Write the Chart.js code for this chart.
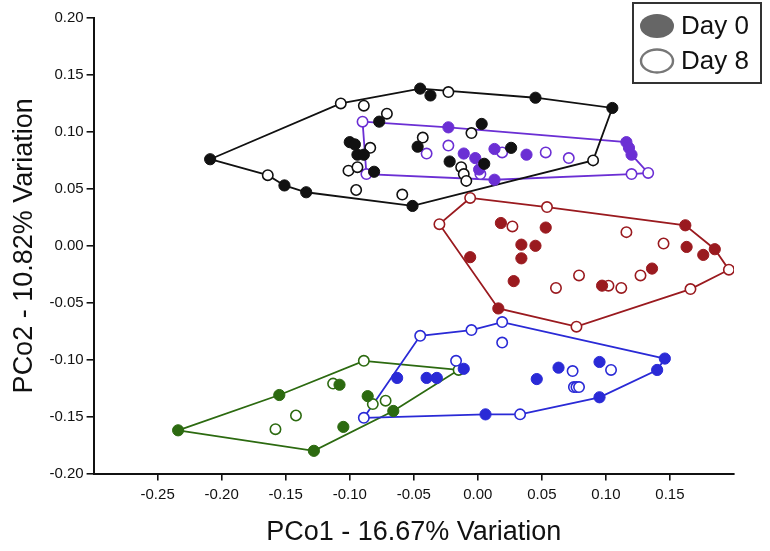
<!DOCTYPE html>
<html>
<head>
<meta charset="utf-8">
<script src="https://cdn.jsdelivr.net/npm/chart.js@4.4.1/dist/chart.umd.min.js"></script>
<style>
  html, body { margin: 0; padding: 0; background: #fff; }
  #wrap { width: 770px; height: 551px; position: relative; }
</style>
</head>
<body>
<div id="wrap"><canvas id="pcoChart"></canvas></div>
<script>
// PCo1 / PCo2 scores, [x, y] pairs per group and sampling day
var blackDay0 = [[-0.209, 0.076], [-0.151, 0.053], [-0.134, 0.047], [-0.051, 0.035], [-0.045, 0.138],
  [-0.037, 0.132], [0.045, 0.130], [0.105, 0.121], [-0.077, 0.109], [-0.100, 0.091], [-0.096, 0.089],
  [-0.094, 0.080], [-0.089, 0.080], [-0.081, 0.065], [-0.047, 0.087], [0.003, 0.107], [-0.022, 0.074],
  [0.005, 0.072], [0.026, 0.086]];
var blackDay8 = [[-0.164, 0.062], [-0.107, 0.125], [-0.089, 0.123], [-0.023, 0.135], [-0.071, 0.116],
  [-0.084, 0.086], [-0.101, 0.066], [-0.094, 0.069], [-0.095, 0.049], [-0.059, 0.045], [-0.043, 0.095],
  [-0.005, 0.099], [-0.013, 0.069], [-0.011, 0.063], [-0.009, 0.057], [0.090, 0.075]];
var blackHull = [[-0.209, 0.076], [-0.107, 0.125], [-0.045, 0.138], [0.045, 0.130], [0.105, 0.121],
  [0.090, 0.075], [-0.051, 0.035], [-0.134, 0.047], [-0.151, 0.053], [-0.164, 0.062]];

var purpleDay0 = [[-0.023, 0.104], [-0.011, 0.081], [-0.002, 0.077], [0.001, 0.067], [0.013, 0.085],
  [0.038, 0.080], [0.013, 0.058], [0.116, 0.091], [0.118, 0.086], [0.120, 0.080]];
var purpleDay8 = [[-0.090, 0.109], [-0.087, 0.063], [-0.040, 0.081], [-0.023, 0.088], [0.002, 0.063],
  [0.019, 0.082], [0.053, 0.082], [0.071, 0.077], [0.120, 0.063], [0.133, 0.064]];
var purpleHull = [[-0.090, 0.109], [-0.023, 0.104], [0.116, 0.091], [0.118, 0.086], [0.120, 0.080],
  [0.133, 0.064], [0.120, 0.063], [0.013, 0.058], [-0.087, 0.063]];

var redDay0 = [[0.162, 0.018], [0.185, -0.003], [0.016, -0.055], [-0.006, -0.010], [0.018, 0.020],
  [0.053, 0.016], [0.034, 0.001], [0.045, 0.000], [0.034, -0.011], [0.028, -0.031], [0.097, -0.035],
  [0.136, -0.020], [0.163, -0.001], [0.176, -0.008]];
var redDay8 = [[-0.006, 0.042], [0.054, 0.034], [0.196, -0.021], [0.166, -0.038], [0.077, -0.071],
  [-0.030, 0.019], [0.027, 0.017], [0.061, -0.037], [0.079, -0.026], [0.102, -0.035], [0.112, -0.037],
  [0.127, -0.026], [0.116, 0.012], [0.145, 0.002]];
var redHull = [[-0.006, 0.042], [0.054, 0.034], [0.162, 0.018], [0.185, -0.003], [0.196, -0.021],
  [0.166, -0.038], [0.077, -0.071], [0.016, -0.055], [-0.030, 0.019]];

var blueDay0 = [[0.146, -0.099], [0.140, -0.109], [0.095, -0.133], [0.006, -0.148], [-0.011, -0.108],
  [-0.063, -0.116], [-0.040, -0.116], [-0.032, -0.116], [0.046, -0.117], [0.063, -0.107], [0.095, -0.102]];
var blueDay8 = [[-0.045, -0.079], [-0.005, -0.074], [0.019, -0.067], [0.019, -0.085], [0.033, -0.148],
  [-0.089, -0.151], [-0.017, -0.101], [0.074, -0.110], [0.104, -0.109], [0.075, -0.124], [0.077, -0.124],
  [0.079, -0.124]];
var blueHull = [[-0.089, -0.151], [-0.045, -0.079], [-0.005, -0.074], [0.019, -0.067], [0.146, -0.099],
  [0.140, -0.109], [0.095, -0.133], [0.033, -0.148], [0.006, -0.148]];

var greenDay0 = [[-0.234, -0.162], [-0.155, -0.131], [-0.066, -0.145], [-0.128, -0.180], [-0.108, -0.122],
  [-0.086, -0.132], [-0.105, -0.159]];
var greenDay8 = [[-0.089, -0.101], [-0.015, -0.109], [-0.113, -0.121], [-0.082, -0.139], [-0.072, -0.136],
  [-0.142, -0.149], [-0.158, -0.161]];
var greenHull = [[-0.234, -0.162], [-0.155, -0.131], [-0.089, -0.101], [-0.015, -0.109], [-0.066, -0.145],
  [-0.128, -0.180]];

var xTitle = 'PCo1 - 16.67% Variation';
var yTitle = 'PCo2 - 10.82% Variation';
var legendLabels = ['Day 0', 'Day 8'];

var fontFamily = "'Liberation Sans', Arial, sans-serif";
var xMin = -0.30, xMax = 0.20, yMin = -0.20, yMax = 0.20;

function toPoints(arr) {
  return arr.map(function(p) { return { x: p[0], y: p[1] }; });
}

// one hull outline + filled (day 0) + open (day 8) markers per group
function groupDatasets(color, day0, day8, hull) {
  return [
    {
      data: toPoints(hull.concat([hull[0]])),
      showLine: true,
      borderColor: color,
      borderWidth: 1.8,
      pointRadius: 0,
      fill: false,
      tension: 0,
      order: 3
    },
    {
      data: toPoints(day8),
      pointRadius: 5.2,
      pointBackgroundColor: '#ffffff',
      pointBorderColor: color,
      pointBorderWidth: 1.6,
      order: 2
    },
    {
      data: toPoints(day0),
      pointRadius: 5.6,
      pointBackgroundColor: color,
      pointBorderColor: color,
      pointBorderWidth: 1,
      order: 1
    }
  ];
}

var datasets = []
  .concat(groupDatasets('#111111', blackDay0, blackDay8, blackHull))
  .concat(groupDatasets('#6b2fd4', purpleDay0, purpleDay8, purpleHull))
  .concat(groupDatasets('#9a1a1f', redDay0, redDay8, redHull))
  .concat(groupDatasets('#2a2ad6', blueDay0, blueDay8, blueHull))
  .concat(groupDatasets('#2c6a10', greenDay0, greenDay8, greenHull));

function isEnd(v, a, b) {
  return Math.abs(v - a) < 1e-6 || Math.abs(v - b) < 1e-6;
}

// boxed legend with ellipse markers, top right
var dayLegend = {
  id: 'dayLegend',
  afterDraw: function(chart) {
    var ctx = chart.ctx;
    ctx.save();
    ctx.lineWidth = 2;
    ctx.strokeStyle = '#333';
    ctx.strokeRect(633, 3, 128, 80);

    ctx.fillStyle = '#666';
    ctx.beginPath();
    ctx.ellipse(657, 26, 17, 12, 0, 0, Math.PI * 2);
    ctx.fill();

    ctx.strokeStyle = '#777';
    ctx.lineWidth = 2.4;
    ctx.beginPath();
    ctx.ellipse(657, 61, 16, 11.5, 0, 0, Math.PI * 2);
    ctx.stroke();

    ctx.fillStyle = '#111';
    ctx.font = "26px 'Liberation Sans', Arial, sans-serif";
    ctx.textBaseline = 'middle';
    ctx.textAlign = 'left';
    ctx.fillText(legendLabels[0], 681, 27);
    ctx.fillText(legendLabels[1], 681, 62);
    ctx.restore();
  }
};

new Chart(document.getElementById('pcoChart'), {
  type: 'scatter',
  data: { datasets: datasets },
  options: {
    responsive: true,
    maintainAspectRatio: false,
    animation: false,
    layout: { padding: { top: 18, right: 36, left: 8, bottom: 2 } },
    plugins: {
      legend: { display: false },
      tooltip: { enabled: false }
    },
    scales: {
      x: {
        type: 'linear',
        min: xMin,
        max: xMax,
        border: { display: true, color: '#111', width: 2 },
        grid: {
          drawOnChartArea: false,
          drawTicks: true,
          tickLength: 7,
          lineWidth: 1.6,
          color: function(c) {
            return (c.tick && isEnd(c.tick.value, xMin, xMax)) ? 'rgba(0,0,0,0)' : '#111';
          }
        },
        ticks: {
          stepSize: 0.05,
          padding: 5,
          color: '#111',
          font: { family: fontFamily, size: 15 },
          maxRotation: 0,
          autoSkip: false,
          callback: function(v) {
            if (isEnd(v, xMin, xMax)) return '';
            if (Math.abs(v) < 1e-9) v = 0;
            return v.toFixed(2);
          }
        },
        title: {
          display: true,
          text: xTitle,
          color: '#111',
          font: { family: fontFamily, size: 27 },
          padding: { top: 8, bottom: 0 }
        }
      },
      y: {
        type: 'linear',
        min: yMin,
        max: yMax,
        border: { display: true, color: '#111', width: 2 },
        grid: {
          drawOnChartArea: false,
          drawTicks: true,
          tickLength: 7,
          lineWidth: 1.6,
          color: '#111'
        },
        ticks: {
          stepSize: 0.05,
          padding: 3,
          color: '#111',
          font: { family: fontFamily, size: 15 },
          autoSkip: false,
          callback: function(v) {
            if (Math.abs(v) < 1e-9) v = 0;
            return v.toFixed(2);
          }
        },
        title: {
          display: true,
          text: yTitle,
          color: '#111',
          font: { family: fontFamily, size: 27 },
          padding: { top: 0, bottom: 6 }
        }
      }
    }
  },
  plugins: [dayLegend]
});
</script>
</body>
</html>
